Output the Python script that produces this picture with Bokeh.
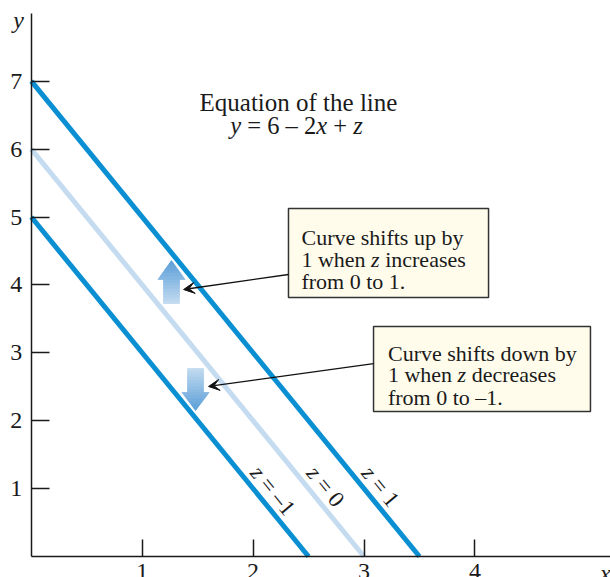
import math
from bokeh.plotting import figure
from bokeh.models import Range1d, FixedTicker, Arrow, VeeHead
from bokeh.core.properties import value
from bokeh.embed import file_html
from bokeh.resources import INLINE

# ---------------- data ----------------
Z_VALUES = [1, 0, -1]
LINE_X = [[0, 3.5], [0, 3.0], [0, 2.5]]
LINE_Y = [[7, 0], [6, 0], [5, 0]]
LINE_COLORS = ["#0a8fd2", "#c5dcf0", "#0a8fd2"]
LINE_LABEL_POS = [(3.149, 1.031), (2.653, 1.031), (2.179, 0.972)]
LINE_LABEL_TAIL = [" = 1", " = 0", " = –1"]

X_TICKS = [1, 2, 3, 4]
Y_TICKS = [1, 2, 3, 4, 5, 6, 7]

TITLE_LINE1 = "Equation of the line"
TITLE_LINE2 = [("y", True), (" = 6 – 2", False), ("x", True), (" + ", False), ("z", True)]
TITLE_POS = [(2.409, 6.691), (2.391, 6.348)]

BOX_RECTS = [(2.319, 4.123, 3.814, 5.125), (3.086, 5.042, 2.135, 3.387)]
BOX_TEXT_X = [2.436, 3.216]
BOX_TEXT_Y = [[4.703, 4.370, 4.055], [2.994, 2.680, 2.346]]
BOX_LINES = [
    [[("Curve shifts up by", False)],
     [("1 when ", False), ("z", True), (" increases", False)],
     [("from 0 to 1.", False)]],
    [[("Curve shifts down by", False)],
     [("1 when ", False), ("z", True), (" decreases", False)],
     [("from 0 to –1.", False)]],
]
POINTER_START = [(2.319, 4.153), (3.086, 2.842)]
POINTER_END = [(1.373, 3.932), (1.598, 2.504)]

# block arrows: centre x, tail y, head-base y, tip y
BLOCK_ARROWS = [(1.264, 3.726, 4.080, 4.359), (1.481, 2.769, 2.415, 2.150)]

# ---------------- layout ----------------
W, H = 610, 577
PX_X, PX_Y = 110.9, 67.9
X0 = -30.8 / PX_X
X1 = X0 + W / PX_X
Y1 = 556 / PX_Y
Y0 = Y1 - H / PX_Y
FONT = "Liberation Serif"

CW = {" ": .25, ".": .25, "=": .564, "+": .564, "–": .5, "a": .444, "b": .5, "c": .444,
      "d": .5, "e": .444, "f": .333, "h": .5, "i": .278, "n": .5, "o": .5, "p": .5,
      "r": .333, "s": .389, "t": .278, "u": .5, "v": .5, "w": .722, "y": .5, "C": .667,
      "E": .611, "q": .5, "l": .278, "m": .778, "x": .5, "z": .444}
CW_IT = {"x": .444, "y": .444, "z": .389}


def seg_w(s, italic, size):
    tot = 0.0
    for c in s:
        if italic and c in CW_IT:
            tot += CW_IT[c]
        else:
            tot += CW.get(c, .5)
    return tot * size


p = figure(width=W, height=H, x_range=Range1d(X0, X1), y_range=Range1d(Y0, Y1),
           output_backend="svg", toolbar_location=None, min_border=0,
           background_fill_color="white", border_fill_color="white")
p.outline_line_color = None
p.grid.visible = False

for ax, ticks, tin in ((p.xaxis, X_TICKS, 17), (p.yaxis, Y_TICKS, 18)):
    ax.fixed_location = 0
    ax.ticker = FixedTicker(ticks=ticks)
    ax.minor_tick_line_color = None
    ax.major_tick_in = tin
    ax.major_tick_out = 0
    ax.axis_line_color = "#1a1a1a"
    ax.axis_line_width = 1.5
    ax.major_tick_line_color = "#1a1a1a"
    ax.major_tick_line_width = 1.5
    ax.major_label_text_font = FONT
    ax.major_label_text_font_size = "24px"
    ax.major_label_text_color = "#1a1a1a"
p.xaxis.bounds = (0, X1)
p.yaxis.bounds = (0, 8.0)
p.xaxis.major_label_standoff = 7
p.yaxis.major_label_standoff = 9


def add_text(x, y, t, size, italic=False, angle=0.0, align="left", baseline="alphabetic"):
    p.text(x=[x], y=[y], text=[t], angle=angle, text_font=value(FONT),
           text_font_size=f"{size}px", text_font_style="italic" if italic else "normal",
           text_align=align, text_baseline=baseline, text_color="#1a1a1a")


def add_segments(x, y, segs, size, center=False, baseline="alphabetic"):
    total = sum(seg_w(s, it, size) for s, it in segs)
    cx = x - (total / 2 / PX_X if center else 0)
    for s, it in segs:
        lead = len(s) - len(s.lstrip())
        add_text(cx + seg_w(" " * lead, False, size) / PX_X, y, s.strip(), size, it,
                 baseline=baseline)
        cx += seg_w(s, it, size) / PX_X


# lines (light one first)
for i in (1, 0, 2):
    p.line(LINE_X[i], LINE_Y[i], line_color=LINE_COLORS[i], line_width=5)

# rotated line labels
ang = math.atan(2 * PX_Y / PX_X)
ux, uy = math.cos(ang) / PX_X, -math.sin(ang) / PX_Y
LBL = 23
for (lx, ly), tail in zip(LINE_LABEL_POS, LINE_LABEL_TAIL):
    segs = [("z", True), (tail, False)]
    total = sum(seg_w(s, it, LBL) for s, it in segs)
    d = -total / 2
    for s, it in segs:
        lead = seg_w(" " * (len(s) - len(s.lstrip())), False, LBL)
        add_text(lx + (d + lead) * ux, ly + (d + lead) * uy, s.strip(), LBL, it,
                 angle=-ang, baseline="middle")
        d += seg_w(s, it, LBL)

# block arrows with gradient
TIP_C = (0x5a, 0x9e, 0xd7)
TAIL_C = (0xc4, 0xdc, 0xf1)


def mix(t):
    return "#%02x%02x%02x" % tuple(int(round(a + (b - a) * t)) for a, b in zip(TAIL_C, TIP_C))


HW_HEAD = 13.5 / PX_X
HW_SHAFT = 8 / PX_X
for cx, yt, yb, yp in BLOCK_ARROWS:
    total = abs(yp - yt)
    ns, nh = 8, 6
    qs = dict(left=[], right=[], bottom=[], top=[], color=[])
    for k in range(ns):
        a = yt + (yb - yt) * k / ns
        b = yt + (yb - yt) * (k + 1) / ns
        t = (abs((a + b) / 2 - yt)) / total
        qs["left"].append(cx - HW_SHAFT)
        qs["right"].append(cx + HW_SHAFT)
        qs["bottom"].append(min(a, b))
        qs["top"].append(max(a, b))
        qs["color"].append(mix(t))
    p.quad(left="left", right="right", bottom="bottom", top="top", fill_color="color",
           line_color="color", line_width=0.8, source=qs)
    xs, ys, cs = [], [], []
    for k in range(nh):
        a = yb + (yp - yb) * k / nh
        b = yb + (yp - yb) * (k + 1) / nh
        wa = HW_HEAD * (yp - a) / (yp - yb)
        wb = HW_HEAD * (yp - b) / (yp - yb)
        xs.append([cx - wa, cx + wa, cx + wb, cx - wb])
        ys.append([a, a, b, b])
        cs.append(mix(abs((a + b) / 2 - yt) / total))
    p.patches(xs=xs, ys=ys, fill_color=cs, line_color=cs, line_width=0.8)

# callout boxes
p.quad(left=[r[0] for r in BOX_RECTS], right=[r[1] for r in BOX_RECTS],
       bottom=[r[2] for r in BOX_RECTS], top=[r[3] for r in BOX_RECTS],
       fill_color="#fffcec", line_color="#333333", line_width=1.5)
BOX_SIZE = 22
for bx, bys, lines in zip(BOX_TEXT_X, BOX_TEXT_Y, BOX_LINES):
    for by, segs in zip(bys, lines):
        add_segments(bx, by, segs, BOX_SIZE)

# pointer arrows
for (xs0, ys0), (xe, ye) in zip(POINTER_START, POINTER_END):
    p.add_layout(Arrow(x_start=xs0, y_start=ys0, x_end=xe, y_end=ye, line_width=1.3,
                       line_color="#111111",
                       end=VeeHead(size=11, fill_color="#111111", line_color="#111111",
                                   line_width=1)))

# title
add_text(TITLE_POS[0][0], TITLE_POS[0][1], TITLE_LINE1, 25, align="center")
add_segments(TITLE_POS[1][0], TITLE_POS[1][1], TITLE_LINE2, 24.5, center=True)

# axis names
add_text(-0.115, 7.9, "y", 24, True, align="center", baseline="middle")
add_text(5.176, -0.236, "x", 24, True, align="center", baseline="middle")

open("out.html", "w").write(file_html(p, INLINE))
